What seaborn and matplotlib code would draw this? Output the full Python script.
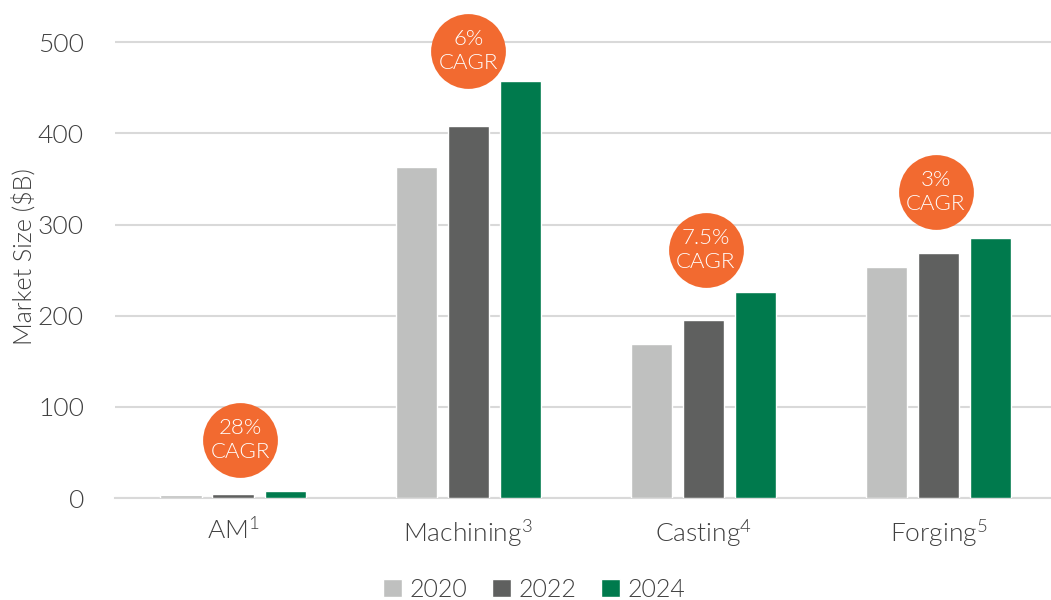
import pandas as pd
import seaborn as sns
import matplotlib.pyplot as plt

categories = ["AM$^{1}$", "Machining$^{3}$", "Casting$^{4}$", "Forging$^{5}$"]
years = ["2020", "2022", "2024"]
v2020 = [3, 363, 169, 253]
v2022 = [4.5, 408, 195, 269]
v2024 = [7.5, 458, 226, 285]
cagr_labels = ["28%\nCAGR", "6%\nCAGR", "7.5%\nCAGR", "3%\nCAGR"]
cagr_y = [64, 491, 272, 336]
cagr_dx = [0.03, 0, 0.01, -0.012]

rows = []
for yr, vals in zip(years, [v2020, v2022, v2024]):
    for c, v in zip(categories, vals):
        rows.append({"Category": c, "Year": yr, "Value": v})
df = pd.DataFrame(rows)

sns.set_style("white")
plt.rcParams["font.family"] = ["Lato", "DejaVu Sans"]
plt.rcParams["mathtext.fontset"] = "custom"
plt.rcParams["mathtext.rm"] = "Lato:weight=300"
plt.rcParams["mathtext.it"] = "Lato:weight=300"
W = 300  # Lato Light

fig = plt.figure(figsize=(10.51, 6), dpi=100)
ax = fig.add_axes([0.109, 0.17, 0.891, 0.805])

palette = {"2020": "#BFC0BF", "2022": "#5F605F", "2024": "#007A4D"}
sns.barplot(data=df, x="Category", y="Value", hue="Year", palette=palette,
            width=0.664, gap=0.21, saturation=1, ax=ax, zorder=3)

for i, (lab, y, dx) in enumerate(zip(cagr_labels, cagr_y, cagr_dx)):
    ax.scatter(i + dx, y, s=2900, color="#F26A30", zorder=5, clip_on=False,
               linewidths=0)
    ax.text(i + dx, y, lab, ha="center", va="center", color="white",
            fontsize=16, fontweight=W, zorder=6, linespacing=1.25)

ax.set_ylim(0, 530)
ax.set_xlim(-0.504, 3.479)
ax.set_yticks([0, 100, 200, 300, 400, 500])
ax.yaxis.grid(True, color="#D9D9D9", linewidth=1.5, zorder=0)
for s in ["top", "right", "left"]:
    ax.spines[s].set_visible(False)
ax.spines["bottom"].set_color("#D9D9D9")
ax.spines["bottom"].set_linewidth(1.5)
ax.spines["bottom"].set_zorder(2)
ax.tick_params(axis="both", length=0, labelsize=19, colors="#404040")
ax.tick_params(axis="y", pad=22)
ax.tick_params(axis="x", pad=14)
for t in ax.get_xticklabels() + ax.get_yticklabels():
    t.set_fontweight(W)
ax.set_xlabel("")
ax.set_ylabel("Market Size ($B)", fontsize=18, fontweight=W,
              color="#404040", labelpad=1)

leg = ax.legend(loc="center", bbox_to_anchor=(0.448, -0.19), ncol=3,
                frameon=False, fontsize=18, handlelength=0.75, handleheight=0.75,
                columnspacing=1.0, handletextpad=0.3, borderpad=0)
for t in leg.get_texts():
    t.set_fontweight(W)
    t.set_color("#404040")

plt.savefig("out.png", dpi=100)
